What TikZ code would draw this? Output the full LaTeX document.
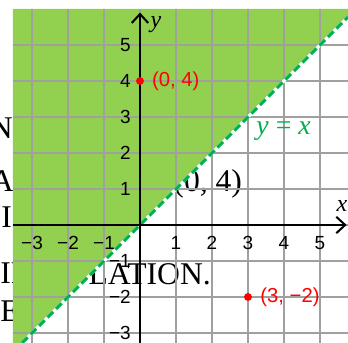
\documentclass[tikz,border=0pt]{standalone}
\usepackage{fontspec}
\setmainfont{Liberation Serif}
\newfontfamily\arialf{Liberation Sans}
\usetikzlibrary{arrows.meta}
\definecolor{fillgreen}{HTML}{92D050}
\definecolor{linegreen}{HTML}{00B050}
\definecolor{gridgray}{HTML}{A0A0A0}
\tikzset{
  gridline/.style={draw=gridgray, line width=1pt},
  axisline/.style={draw=black, line width=1.6pt, -{Straight Barb[length=7pt,width=13pt,line width=1.6pt]}},
  ticklabel/.style={font=\arialf\fontsize{15}{15}\selectfont, inner sep=0pt},
  pointlabel/.style={font=\arialf\fontsize{16}{16}\selectfont, text=red, inner sep=0pt, anchor=west},
  dotmark/.style={fill=red, draw=none},
  straytext/.style={font=\fontsize{25}{25}\selectfont, inner sep=0pt},
  axislabel/.style={font=\fontsize{19}{19}\selectfont\itshape, inner sep=0pt},
}
\begin{document}
\begin{tikzpicture}[x=1cm,y=1cm]
\useasboundingbox (-3.889,-3.278) rectangle (5.778,6.25);
\fill[white] (-3.889,-3.278) rectangle (5.778,6.25);
% stray background text
\node[straytext, anchor=base east] (s1) at (-3.528,2.389) {N};
\node[straytext, anchor=base east] (s2) at (-3.5,0.917) {A};
\node[straytext, anchor=base west] (s3) at (-3.861,-0.083) {I};
\node[straytext, anchor=base west] (s4) at (-3.889,-1.639) {IF};
\node[straytext, anchor=base west] (s5) at (-3.889,-2.694) {E};
\node[straytext, anchor=base east] (s6) at (2.84,0.917) {(0, 4)};
\node[straytext, anchor=base east] (s7) at (1.972,-1.667) {LATION.};
% shaded region
\fill[fillgreen] (-3.528,-3.278) -- (-3.278,-3.278) -- (5.778,5.778) -- (5.778,6.0) -- (-3.528,6.0) -- cycle;
% grid
\foreach \i in {-3,...,5} {
  \draw[gridline] (\i,-3.278) -- (\i,6.0);
  \draw[gridline] (-3.528,\i) -- (5.778,\i);
}
% line y = x
\coordinate (la) at (-3.278,-3.278);
\coordinate (lb) at (5.778,5.778);
\begin{scope}
\clip (-3.528,-3.278) rectangle (5.778,6.0);
\draw[white, line width=2.4pt] (la) -- (lb);
\draw[linegreen, line width=2.4pt, dash pattern=on 6.3pt off 3.2pt] (la) -- (lb);
\end{scope}
% axes
\coordinate (xa) at (-3.528,0);
\coordinate (xb) at (5.74,0);
\coordinate (ya) at (0,-3.278);
\coordinate (yb) at (0,5.9);
\draw[axisline] (xa) -- (xb);
\draw[axisline] (ya) -- (yb);
\node[axislabel] (xl) at (5.61,0.53) {x};
\node[axislabel] (yl) at (0.44,5.56) {y};
% tick labels
\foreach \i/\t in {-3/−3,-2/−2,-1/−1,1/1,2/2,3/3,4/4,5/5} {
  \node[ticklabel] (tx\i) at (\i,-0.5) {\t};
}
\foreach \i/\t in {-3/−3,-2/−2,-1/−1,1/1,2/2,3/3,4/4,5/5} {
  \node[ticklabel, anchor=east] (ty\i) at (-0.25,\i) {\t};
}
% y = x label
\node[font=\fontsize{22}{22}\selectfont, text=linegreen, inner sep=0pt] (eq) at (3.99,2.6) {\textit{y} = \textit{x}};
% points
\fill[dotmark] (0,4) circle (0.11) node[coordinate] (p1) {};
\fill[dotmark] (3,-2) circle (0.11) node[coordinate] (p2) {};
\node[pointlabel] (p1l) at (0.33,4) {(0, 4)};
\node[pointlabel] (p2l) at (3.34,-2) {(3, −2)};
\end{tikzpicture}
\end{document}
